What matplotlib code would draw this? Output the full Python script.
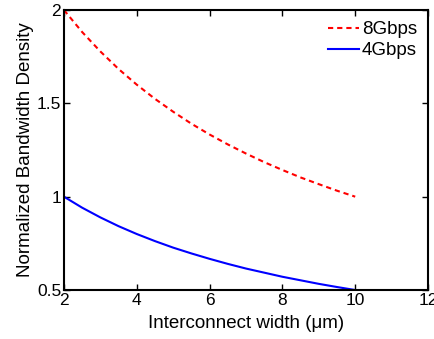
import matplotlib
matplotlib.use("Agg")
import matplotlib.pyplot as plt
from matplotlib.ticker import FormatStrFormatter

# values
width = [2, 2.5, 3, 3.5, 4, 4.5, 5, 5.5, 6, 6.5, 7, 7.5, 8, 8.5, 9, 9.5, 10]
bw_8g = [2.0, 1.882, 1.778, 1.684, 1.6, 1.524, 1.455, 1.391, 1.333,
         1.28, 1.231, 1.185, 1.143, 1.103, 1.067, 1.032, 1.0]
bw_4g = [1.0, 0.941, 0.889, 0.842, 0.8, 0.762, 0.727, 0.696, 0.667,
         0.64, 0.615, 0.593, 0.571, 0.552, 0.533, 0.516, 0.5]

plt.rcParams['font.family'] = ['Liberation Sans', 'DejaVu Sans']
plt.rcParams['font.size'] = 13.5

fig = plt.figure(figsize=(4.35, 3.39), dpi=100)
ax = fig.add_axes([0.147, 0.1445, 0.837, 0.826])

ax.plot(width, bw_8g, '--', color='red', lw=1.5, dashes=(2.5, 1.9), label='8Gbps')
ax.plot(width, bw_4g, '-', color='blue', lw=1.5, label='4Gbps')

ax.set_xlim(2, 12)
ax.set_ylim(0.5, 2)
ax.set_xticks([2, 4, 6, 8, 10, 12])
ax.set_yticks([0.5, 1, 1.5, 2])
ax.yaxis.set_major_formatter(FormatStrFormatter('%g'))
ax.tick_params(direction='in', length=4, width=1, top=True, right=True,
               pad=2, labelsize=12.5)
for s in ax.spines.values():
    s.set_linewidth(1.5)

ax.set_xlabel('Interconnect width (\u03bcm)', labelpad=5)
ax.set_ylabel('Normalized Bandwidth Density', labelpad=2)

ax.legend(loc='upper right', frameon=False, handlelength=1.65, handletextpad=0.15,
          borderaxespad=0.2, labelspacing=0.2)

fig.savefig('out.png', dpi=100)
